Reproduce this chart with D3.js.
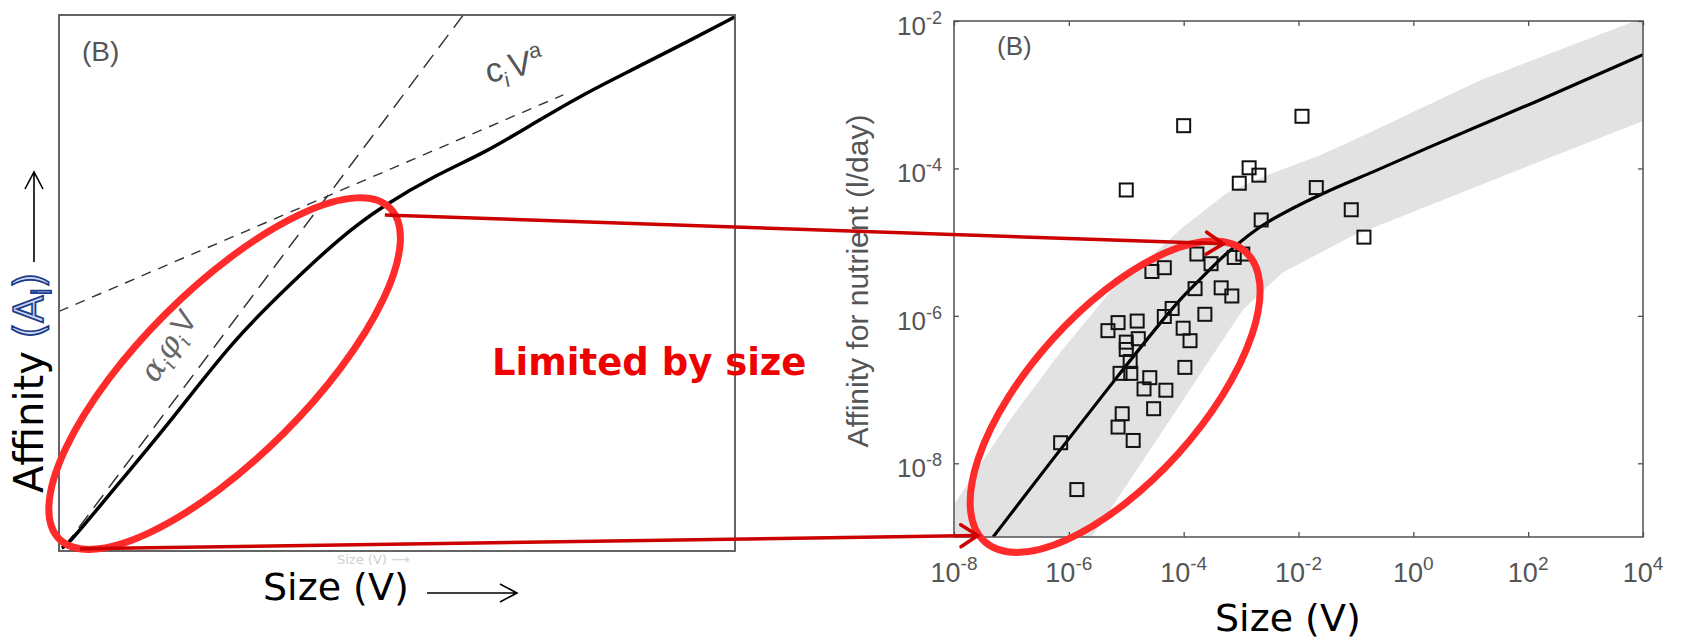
<!DOCTYPE html>
<html>
<head>
<meta charset="utf-8">
<script src="https://cdn.jsdelivr.net/npm/d3@7"></script>
<style>
  body { margin: 0; background: #fff; }
  svg { display: block; }
  text { font-family: "DejaVu Sans", Verdana, sans-serif; }
  .mat { font-family: "Liberation Sans", Arial, sans-serif; fill: #555; }
</style>
</head>
<body>
<div id="chart"></div>
<script>
const W = 1681, H = 641;

// left schematic panel, arbitrary units (0..10 on both axes)
const schemeSize = [0.04, 0.13, 0.92, 1.64, 2.57, 3.43, 4.14, 4.79, 5.58, 6.30, 7.01, 7.74, 8.45, 9.17, 9.99];
const schemeAff  = [0.06, 0.11, 1.32, 2.40, 3.93, 4.99, 5.83, 6.44, 7.02, 7.43, 7.97, 8.51, 8.96, 9.42, 9.96];
// alpha*phi*V limit (steep dashed) and c*V^a limit (shallow dashed)
const volSize  = [0.07, 5.98], volAff  = [0.06, 10.0];
const surfSize = [0.0, 7.46],  surfAff = [4.47, 8.51];

// right panel: observed affinities (l/day) vs size
const obsSize = [1.0e-4, 1.15e-2, 1.0e-5, 1.38e-3, 2.04e-3, 9.3e-4, 2.04e-2, 8.3e-2, 0.138, 2.24e-3,
  1.7e-4, 3.0e-4, 7.6e-4, 1.07e-3, 4.6e-5, 2.8e-5, 1.58e-4, 4.5e-4, 6.9e-4, 6.3e-5,
  4.6e-5, 2.34e-4, 7.2e-6, 1.55e-5, 4.8e-6, 9.8e-5, 1.29e-4, 1.0e-5, 1.0e-5, 1.62e-5,
  1.17e-5, 1.05e-4, 7.8e-6, 1.2e-5, 2.57e-5, 2.04e-5, 4.9e-5, 3.0e-5, 8.5e-6, 7.2e-6,
  1.32e-5, 7.2e-7, 1.38e-6];
const obsAff = [3.8e-4, 5.1e-4, 5.1e-5, 1.02e-4, 8.1e-5, 6.3e-5, 5.5e-5, 2.75e-5, 1.17e-5, 2.0e-5,
  6.9e-6, 5.1e-6, 6.2e-6, 6.9e-6, 4.5e-6, 4.0e-6, 2.34e-6, 2.4e-6, 1.86e-6, 1.26e-6,
  9.8e-7, 1.05e-6, 8.1e-7, 8.5e-7, 6.3e-7, 6.8e-7, 4.6e-7, 4.4e-7, 3.5e-7, 4.9e-7,
  2.4e-7, 2.0e-7, 1.66e-7, 1.66e-7, 1.45e-7, 1.02e-7, 9.8e-8, 5.5e-8, 4.7e-8, 3.1e-8,
  2.04e-8, 1.9e-8, 4.4e-9];

// model fit and its shaded range
const fitSize = [4.8e-8, 6.5e-7, 7.2e-6, 4.9e-5, 1.0e-4, 2.9e-4, 5.2e-4, 1.45e-3, 2.5e-3, 2.2e-2, 0.2, 1.74, 15.1, 132, 1200, 1e4];
const fitAff  = [1e-9, 1.41e-8, 1.55e-7, 1.0e-6, 1.9e-6, 4.3e-6, 6.8e-6, 1.3e-5, 1.8e-5, 4.4e-5, 8.9e-5, 1.9e-4, 3.9e-4, 7.9e-4, 1.7e-3, 3.5e-3];
const bandUpSize = [4.0e-9, 1e-8, 9.5e-8, 7.1e-7, 5.2e-6, 2.6e-5, 9.8e-5, 5.8e-4, 2.5e-3, 2.2e-2, 7.9e-2, 15.1, 1e4];
const bandUpAff  = [7.9e-10, 2.75e-9, 3.9e-8, 3.2e-7, 2.1e-6, 6.2e-6, 1.6e-5, 4.7e-5, 7.8e-5, 1.48e-4, 2.3e-4, 1.58e-3, 1.1e-2];
const bandLoSize = [1.9e-6, 2.5e-6, 1.17e-5, 5.8e-5, 2.9e-4, 1.07e-3, 2.1e-3, 5.4e-3, 7.9e-2, 15.1, 1e4];
const bandLoAff  = [7.2e-10, 1.0e-9, 6.0e-9, 3.9e-8, 2.6e-7, 1.2e-6, 2.0e-6, 3.9e-6, 1.17e-5, 6.0e-5, 4.4e-4];

const xTicks = [1e-8, 1e-6, 1e-4, 1e-2, 1, 1e2, 1e4];
const yTicks = [1e-8, 1e-6, 1e-4, 1e-2];

const svg = d3.select('#chart').append('svg')
  .attr('width', W).attr('height', H);

const xL = d3.scaleLinear().domain([0, 10]).range([59, 735]);
const yL = d3.scaleLinear().domain([0, 10]).range([551, 15]);
const xR = d3.scaleLog().domain([1e-8, 1e4]).range([954, 1643]);
const yR = d3.scaleLog().domain([1e-9, 1e-2]).range([537, 21]);

const defs = svg.append('defs');
defs.append('clipPath').attr('id', 'clipL').append('rect')
  .attr('x', xL(0)).attr('y', yL(10)).attr('width', xL(10) - xL(0)).attr('height', yL(0) - yL(10));
defs.append('clipPath').attr('id', 'clipR').append('rect')
  .attr('x', xR(1e-8)).attr('y', yR(1e-2)).attr('width', xR(1e4) - xR(1e-8)).attr('height', yR(1e-9) - yR(1e-2));
defs.append('marker')
  .attr('id', 'redHead').attr('markerUnits', 'userSpaceOnUse')
  .attr('markerWidth', 26).attr('markerHeight', 28)
  .attr('refX', 21).attr('refY', 13).attr('orient', 'auto')
  .append('path').attr('d', 'M4,2 L21,13 L4,24')
  .attr('fill', 'none').attr('stroke', '#cc0000').attr('stroke-width', 3.5)
  .attr('stroke-linecap', 'round');

// ---------- left schematic ----------
const left = svg.append('g');
const leftPlot = left.append('g').attr('clip-path', 'url(#clipL)');
const lineL = d3.line().x(d => xL(d[0])).y(d => yL(d[1]));

leftPlot.append('path')
  .attr('d', lineL(d3.zip(volSize, volAff)))
  .attr('fill', 'none').attr('stroke', '#333').attr('stroke-width', 1.4)
  .attr('stroke-dasharray', '16,9');
leftPlot.append('path')
  .attr('d', lineL(d3.zip(surfSize, surfAff)))
  .attr('fill', 'none').attr('stroke', '#333').attr('stroke-width', 1.4)
  .attr('stroke-dasharray', '10,8');
leftPlot.append('path')
  .attr('d', d3.line().x(d => xL(d[0])).y(d => yL(d[1])).curve(d3.curveBasis)(d3.zip(schemeSize, schemeAff)))
  .attr('fill', 'none').attr('stroke', '#000').attr('stroke-width', 3.5);

left.append('rect')
  .attr('x', xL(0)).attr('y', yL(10))
  .attr('width', xL(10) - xL(0)).attr('height', yL(0) - yL(10))
  .attr('fill', 'none').attr('stroke', '#555').attr('stroke-width', 1.8);

left.append('text').attr('class', 'mat')
  .attr('x', 82).attr('y', 61).attr('font-size', 28).attr('fill', '#444')
  .text('(B)');

// c_i V^a label
const cLab = left.append('text').attr('class', 'mat')
  .attr('transform', 'translate(488,83) rotate(-12)').attr('font-size', 34);
cLab.append('tspan').text('c');
cLab.append('tspan').attr('font-size', 21).attr('dy', 8).text('i');
cLab.append('tspan').attr('dy', -8).attr('dx', 2).text('V');
cLab.append('tspan').attr('font-size', 22).attr('dy', -15).text('a');

// alpha_i phi_i V label
const aLab = left.append('text')
  .attr('transform', 'translate(156,384) rotate(-57)')
  .attr('font-size', 31).attr('fill', '#666')
  .style('font-family', '"DejaVu Serif", serif').style('font-style', 'italic');
aLab.append('tspan').text('α');
aLab.append('tspan').attr('font-size', 19).attr('dy', 7).text('i');
aLab.append('tspan').attr('dy', -7).text('φ');
aLab.append('tspan').attr('font-size', 19).attr('dy', 7).text('i');
aLab.append('tspan').attr('dy', -7).attr('dx', 2).style('font-style', 'normal')
  .style('font-family', '"Liberation Sans", Arial, sans-serif').text('V');

// faint cut-off text under the left box
left.append('text')
  .attr('x', 337).attr('y', 564).attr('font-size', 13).attr('fill', '#cfcfcf')
  .text('Size (V)  \u27F6');

// axis titles with arrows
const affT = left.append('text')
  .attr('transform', 'translate(43,493) rotate(-90)')
  .attr('font-size', 40).attr('fill', '#000');
affT.append('tspan').text('Affinity ');
const blueStyle = s => s.attr('fill', '#c9d6f2').attr('stroke', '#1d3c8c').attr('stroke-width', 1.7);
blueStyle(affT.append('tspan').text('(A'));
blueStyle(affT.append('tspan').attr('font-size', 26).attr('dy', 8).text('i'));
blueStyle(affT.append('tspan').attr('dy', -8).text(')'));

left.append('path')
  .attr('d', 'M34,262 L34,172 M25,189 L34,172 L43,189')
  .attr('fill', 'none').attr('stroke', '#000').attr('stroke-width', 1.6);

left.append('text')
  .attr('x', 263).attr('y', 600).attr('font-size', 38).attr('fill', '#000')
  .text('Size (V)');
left.append('path')
  .attr('d', 'M427,593 L517,593 M500,584 L517,593 L500,602')
  .attr('fill', 'none').attr('stroke', '#000').attr('stroke-width', 1.6);

// ---------- right panel ----------
const right = svg.append('g');
const plotR = right.append('g').attr('clip-path', 'url(#clipR)');
const lineR = d3.line().x(d => xR(d[0])).y(d => yR(d[1]));

const bandPts = d3.zip(bandUpSize, bandUpAff).concat(d3.zip(bandLoSize, bandLoAff).reverse());
plotR.append('path')
  .attr('d', lineR.curve(d3.curveLinearClosed)(bandPts))
  .attr('fill', '#e2e2e2').attr('stroke', 'none');

plotR.append('path')
  .attr('d', lineR.curve(d3.curveBasis)(d3.zip(fitSize, fitAff)))
  .attr('fill', 'none').attr('stroke', '#000').attr('stroke-width', 3.2);

const sq = 13;
plotR.append('g').selectAll('rect')
  .data(d3.zip(obsSize, obsAff))
  .join('rect')
  .attr('x', d => xR(d[0]) - sq / 2)
  .attr('y', d => yR(d[1]) - sq / 2)
  .attr('width', sq).attr('height', sq)
  .attr('fill', 'none').attr('stroke', '#111').attr('stroke-width', 2);

// ticks on all four sides, pointing inwards
const tickStyle = g => {
  g.select('.domain').remove();
  g.selectAll('.tick line').attr('stroke', '#505050').attr('stroke-width', 1.3);
};
right.append('g').attr('transform', `translate(0,${yR(1e-9)})`)
  .call(d3.axisBottom(xR).tickValues(xTicks).tickSizeInner(-5).tickSizeOuter(0).tickFormat(''))
  .call(tickStyle);
right.append('g').attr('transform', `translate(0,${yR(1e-2)})`)
  .call(d3.axisTop(xR).tickValues(xTicks).tickSizeInner(-5).tickSizeOuter(0).tickFormat(''))
  .call(tickStyle);
right.append('g').attr('transform', `translate(${xR(1e-8)},0)`)
  .call(d3.axisLeft(yR).tickValues(yTicks).tickSizeInner(-5).tickSizeOuter(0).tickFormat(''))
  .call(tickStyle);
right.append('g').attr('transform', `translate(${xR(1e4)},0)`)
  .call(d3.axisRight(yR).tickValues(yTicks).tickSizeInner(-5).tickSizeOuter(0).tickFormat(''))
  .call(tickStyle);

right.append('rect')
  .attr('x', xR(1e-8)).attr('y', yR(1e-2))
  .attr('width', xR(1e4) - xR(1e-8)).attr('height', yR(1e-9) - yR(1e-2))
  .attr('fill', 'none').attr('stroke', '#505050').attr('stroke-width', 1.5);

const expOf = v => String(Math.round(Math.log10(v)));
right.append('g').selectAll('text')
  .data(xTicks).join('text')
  .attr('class', 'mat').attr('text-anchor', 'middle')
  .attr('x', d => xR(d)).attr('y', yR(1e-9) + 45).attr('font-size', 27)
  .each(function (d) {
    const t = d3.select(this);
    t.append('tspan').text('10');
    t.append('tspan').attr('font-size', 19).attr('dy', -12).text(expOf(d));
  });
right.append('g').selectAll('text')
  .data(yTicks).join('text')
  .attr('class', 'mat').attr('text-anchor', 'end')
  .attr('x', xR(1e-8) - 12).attr('y', d => yR(d) + 14).attr('font-size', 26)
  .each(function (d) {
    const t = d3.select(this);
    t.append('tspan').text('10');
    t.append('tspan').attr('font-size', 18).attr('dy', -11).text(expOf(d));
  });

right.append('text').attr('class', 'mat')
  .attr('x', 997).attr('y', 55).attr('font-size', 26).attr('fill', '#444')
  .text('(B)');

right.append('text').attr('class', 'mat')
  .attr('transform', `translate(868,${(yR(1e-2) + yR(1e-9)) / 2 + 2}) rotate(-90)`)
  .attr('text-anchor', 'middle').attr('font-size', 30)
  .text('Affinity for nutrient (l/day)');

right.append('text')
  .attr('x', 1215).attr('y', 631).attr('font-size', 38).attr('fill', '#000')
  .text('Size (V)');

// ---------- red annotations ----------
const ann = svg.append('g');
ann.append('ellipse')
  .attr('transform', `translate(${xL(2.45)},${yL(3.31)}) rotate(-45)`)
  .attr('rx', 234).attr('ry', 84)
  .attr('fill', 'none').attr('stroke', '#ff2a2a').attr('stroke-width', 7);
ann.append('ellipse')
  .attr('transform', `translate(${xR(6.4e-6)},${yR(8.0e-8)}) rotate(-48)`)
  .attr('rx', 195).attr('ry', 85)
  .attr('fill', 'none').attr('stroke', '#ff2a2a').attr('stroke-width', 7);

ann.append('line')
  .attr('x1', xL(4.82)).attr('y1', yL(6.27))
  .attr('x2', xR(4.9e-4)).attr('y2', yR(9.5e-6))
  .attr('stroke', '#cc0000').attr('stroke-width', 3.5)
  .attr('marker-end', 'url(#redHead)');
ann.append('line')
  .attr('x1', xL(0.31)).attr('y1', yL(0.04))
  .attr('x2', xR(2.6e-8)).attr('y2', yR(1.05e-9))
  .attr('stroke', '#cc0000').attr('stroke-width', 3.5)
  .attr('marker-end', 'url(#redHead)');

ann.append('text')
  .attr('x', 492).attr('y', 375)
  .attr('font-size', 37).attr('font-weight', 'bold').attr('fill', '#f00000')
  .text('Limited by size');
</script>
</body>
</html>
